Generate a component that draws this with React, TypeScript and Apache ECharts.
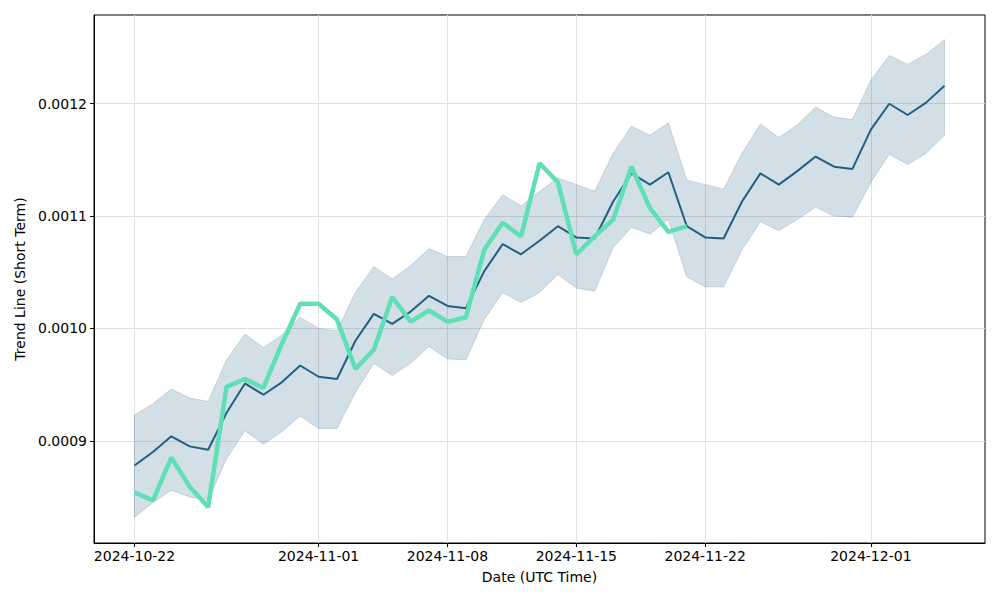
import React, { useEffect, useRef } from "react";
import * as echarts from "echarts";

const dates = [
  "2024-10-22", "2024-10-23", "2024-10-24", "2024-10-25", "2024-10-26", "2024-10-27", "2024-10-28",
  "2024-10-29", "2024-10-30", "2024-10-31", "2024-11-01", "2024-11-02", "2024-11-03", "2024-11-04",
  "2024-11-05", "2024-11-06", "2024-11-07", "2024-11-08", "2024-11-09", "2024-11-10", "2024-11-11",
  "2024-11-12", "2024-11-13", "2024-11-14", "2024-11-15", "2024-11-16", "2024-11-17", "2024-11-18",
  "2024-11-19", "2024-11-20", "2024-11-21", "2024-11-22", "2024-11-23", "2024-11-24", "2024-11-25",
  "2024-11-26", "2024-11-27", "2024-11-28", "2024-11-29", "2024-11-30", "2024-12-01", "2024-12-02",
  "2024-12-03", "2024-12-04", "2024-12-05",
];

const trendMid = [
  0.000878, 0.00089, 0.000904, 0.000895, 0.000892, 0.000925, 0.000951, 0.000941, 0.000952, 0.000967,
  0.000957, 0.000955, 0.000989, 0.001013, 0.001004, 0.001015, 0.001029, 0.00102, 0.001018, 0.001051,
  0.001075, 0.001066, 0.001078, 0.001091, 0.001081, 0.00108, 0.001113, 0.001138, 0.001128, 0.001139,
  0.001091, 0.001081, 0.00108, 0.001113, 0.001138, 0.001128, 0.00114, 0.001153, 0.001144, 0.001142,
  0.001177, 0.0012, 0.00119, 0.001201, 0.001216,
];

const trendUpper = [
  0.000923, 0.000933, 0.000946, 0.000938, 0.000935, 0.000972, 0.000995, 0.000983, 0.000994, 0.00101,
  0.001, 0.000998, 0.001032, 0.001055, 0.001044, 0.001056, 0.001071, 0.001064, 0.001064, 0.001097,
  0.001119, 0.001109, 0.001122, 0.001134, 0.001128, 0.001122, 0.001156, 0.00118, 0.001172, 0.001183,
  0.001132, 0.001128, 0.001124, 0.001156, 0.001182, 0.00117, 0.001181, 0.001197, 0.001188, 0.001186,
  0.001221, 0.001243, 0.001235, 0.001244, 0.001257,
];

const trendLower = [
  0.000832, 0.000845, 0.000856, 0.00085, 0.000847, 0.000884, 0.000909, 0.000897, 0.000908, 0.000922,
  0.000911, 0.000911, 0.000943, 0.000969, 0.000958, 0.000969, 0.000984, 0.000973, 0.000972, 0.001008,
  0.001032, 0.001023, 0.001032, 0.001048, 0.001036, 0.001033, 0.001072, 0.00109, 0.001084, 0.001097,
  0.001046, 0.001037, 0.001037, 0.00107, 0.001095, 0.001087, 0.001097, 0.001108, 0.0011, 0.001099,
  0.00113, 0.001155, 0.001146, 0.001156, 0.001172,
];

const actualPrice = [
  0.000854, 0.000847, 0.000885, 0.000859, 0.000841, 0.000948, 0.000955, 0.000947, 0.000986, 0.001022,
  0.001022, 0.001008, 0.000964, 0.000981, 0.001028, 0.001006, 0.001016, 0.001006, 0.00101, 0.00107,
  0.001094, 0.001082, 0.001147, 0.00113, 0.001066, 0.001082, 0.001097, 0.001144, 0.001107, 0.001086,
  0.001091,
];

const xTickDates = ["2024-10-22", "2024-11-01", "2024-11-08", "2024-11-15", "2024-11-22", "2024-12-01"];
const yTicks = [0.0009, 0.001, 0.0011, 0.0012];

const toMs = (d: string) => {
  const [y, m, day] = d.split("-").map(Number);
  return Date.UTC(y, m - 1, day);
};

const pad = (n: number) => (n < 10 ? "0" + n : "" + n);
const fmtDate = (ms: number) => {
  const d = new Date(ms);
  return d.getUTCFullYear() + "-" + pad(d.getUTCMonth() + 1) + "-" + pad(d.getUTCDate());
};

const FONT = "DejaVu Sans";

export default function App() {
  const ref = useRef<HTMLDivElement>(null);

  useEffect(() => {
    if (!ref.current) return;
    const chart = echarts.init(ref.current, null, { renderer: "svg" });
    const t = dates.map(toMs);
    const first = t[0];
    const last = t[t.length - 1];
    const span = last - first;

    const bandRows = t.map((x, i) => [x, trendLower[i], trendUpper[i]]);
    const midData = t.map((x, i) => [x, trendMid[i]]);
    const actualData = actualPrice.map((v, i) => [t[i], v]);

    const edge = "#b9cbd7";
    const xTickMs = xTickDates.map(toMs);

    chart.setOption({
      animation: false,
      backgroundColor: "#ffffff",
      grid: {
        left: 94,
        top: 15,
        width: 891,
        height: 528,
        show: true,
        borderColor: "#000",
        borderWidth: 1,
        backgroundColor: "transparent",
      },
      xAxis: {
        type: "value",
        min: first - span * 0.05,
        max: last + span * 0.05,
        name: "Date (UTC Time)",
        nameLocation: "middle",
        nameGap: 27,
        nameTextStyle: { fontFamily: FONT, fontSize: 14, color: "#000" },
        axisLine: { show: true, lineStyle: { color: "#000", width: 1 } },
        axisTick: {
          show: true,
          inside: false,
          length: 4,
          lineStyle: { color: "#000" },
          customValues: xTickMs,
        },
        axisLabel: {
          show: true,
          margin: 6,
          fontFamily: FONT,
          fontSize: 14,
          color: "#000",
          customValues: xTickMs,
          formatter: (v: number) => fmtDate(v),
          hideOverlap: false,
          showMinLabel: true,
          showMaxLabel: true,
        },
        splitLine: { show: true, lineStyle: { color: "#e0e0e0", width: 1 } },
      },
      yAxis: {
        type: "value",
        min: 0.000809,
        max: 0.001279,
        name: "Trend Line (Short Term)",
        nameLocation: "middle",
        nameGap: 64,
        nameTextStyle: { fontFamily: FONT, fontSize: 14, color: "#000" },
        axisLine: { show: true, lineStyle: { color: "#000", width: 1 } },
        axisTick: {
          show: true,
          inside: false,
          length: 4,
          lineStyle: { color: "#000" },
          customValues: yTicks,
        },
        axisLabel: {
          show: true,
          margin: 7,
          fontFamily: FONT,
          fontSize: 14,
          color: "#000",
          customValues: yTicks,
          formatter: (v: number) => v.toFixed(4),
        },
        splitLine: { show: true, lineStyle: { color: "#e0e0e0", width: 1 } },
      },
      series: [
        {
          type: "custom",
          name: "band",
          data: bandRows,
          encode: { x: 0, y: [1, 2] },
          silent: true,
          clip: true,
          z: 1,
          renderItem: (params: any, api: any) => {
            if (params.dataIndex !== 0) return null;
            const pts: number[][] = [];
            for (let i = 0; i < bandRows.length; i++) {
              pts.push(api.coord([bandRows[i][0], bandRows[i][2]]));
            }
            for (let i = bandRows.length - 1; i >= 0; i--) {
              pts.push(api.coord([bandRows[i][0], bandRows[i][1]]));
            }
            return {
              type: "polygon",
              shape: { points: pts },
              style: { fill: "rgba(33,95,128,0.2)", stroke: "rgba(33,95,128,0.2)", lineWidth: 1 },
            };
          },
        },
        {
          type: "line",
          name: "mid",
          data: midData,
          symbol: "none",
          silent: true,
          lineStyle: { color: "#215f80", width: 2 },
          z: 3,
        },
        {
          type: "line",
          name: "actual",
          data: actualData,
          symbol: "none",
          silent: true,
          lineStyle: { color: "#5fdfb6", width: 4.5 },
          z: 4,
        },
      ],
    });

    return () => chart.dispose();
  }, []);

  return (
    <div
      ref={ref}
      style={{ position: "fixed", left: 0, top: 0, width: 1000, height: 600, background: "#fff" }}
    />
  );
}
